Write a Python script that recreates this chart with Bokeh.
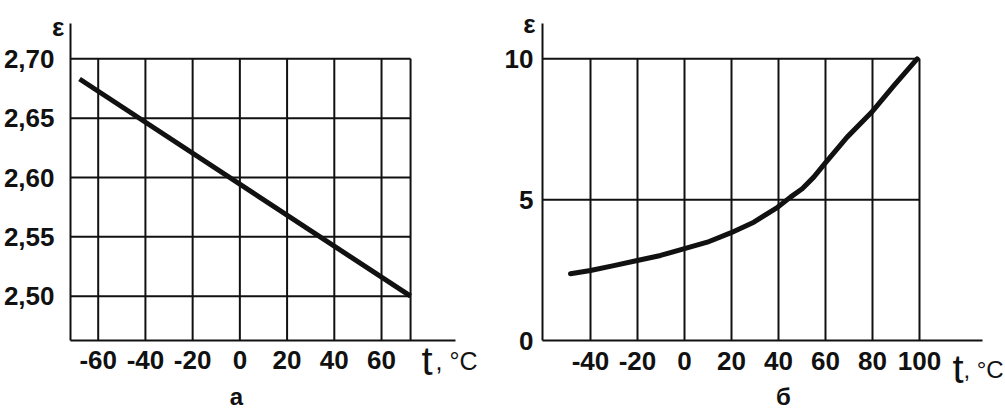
from bokeh.plotting import figure
from bokeh.layouts import row
from bokeh.models import FixedTicker, CustomJSTickFormatter, Label
from bokeh.embed import file_html
from bokeh.resources import INLINE

# ---------------- data ----------------
# panel "а"
T_A = [-67.9, 72.3]
EPS_A = [2.683, 2.500]
XTICKS_A = [-60, -40, -20, 0, 20, 40, 60]
YTICKS_A = [2.50, 2.55, 2.60, 2.65, 2.70]
BOX_RIGHT_A = 72.3
AXIS_X_A = (-71.73, 91.33)     # extent of the t axis
AXIS_Y_A = (2.4627, 2.7297)    # extent of the ε axis

# panel "б"
T_B = [-48.5, -40.0, -30.1, -20.1, -10.2, 0.0, 9.7, 19.6, 29.5, 39.6, 45.1, 50.1,
       55.0, 59.6, 69.2, 79.6, 89.1, 99.0]
EPS_B = [2.37, 2.485, 2.66, 2.84, 3.02, 3.26, 3.49, 3.82, 4.20, 4.73, 5.09, 5.39,
         5.80, 6.27, 7.22, 8.10, 9.05, 10.0]
XTICKS_B = [-40, -20, 0, 20, 40, 60, 80, 100]
YTICKS_B = [0, 5, 10]
AXIS_X_B = (-60.43, 126.8)
AXIS_Y_B = (0.0, 11.25)

FONT = "Liberation Sans Narrow, Liberation Sans, sans-serif"
INK = "#111111"


def style(p, xticks, yticks, ystand, yfmt, ax_x, ax_y):
    p.outline_line_color = None
    p.xgrid.visible = False
    p.ygrid.visible = False
    p.background_fill_color = "white"
    p.border_fill_color = "white"
    for ax in (p.xaxis[0], p.yaxis[0]):
        ax.axis_line_width = 2
        ax.axis_line_color = INK
        ax.major_tick_out = 0
        ax.major_tick_in = 0
        ax.minor_tick_out = 0
        ax.minor_tick_in = 0
        ax.major_label_text_font = FONT
        ax.major_label_text_font_style = "bold"
        ax.major_label_text_font_size = "26px"
        ax.major_label_text_color = INK
    xa, ya = p.xaxis[0], p.yaxis[0]
    xa.ticker = FixedTicker(ticks=xticks)
    ya.ticker = FixedTicker(ticks=yticks)
    xa.formatter = CustomJSTickFormatter(code="return tick.toFixed(0);")
    ya.formatter = CustomJSTickFormatter(code=yfmt)
    xa.major_label_standoff = 11
    ya.major_label_standoff = ystand
    xa.fixed_location = ax_y[0]
    ya.fixed_location = ax_x[0]
    xa.bounds = ax_x
    ya.bounds = ax_y


def lab(p, x, y, text, size, style_="normal", align="left", baseline="alphabetic"):
    p.add_layout(Label(x=x, y=y, text=text, text_font=FONT, text_font_size=size,
                       text_font_style=style_, text_align=align,
                       text_baseline=baseline, text_color=INK))


# ---------------- panel а ----------------
pa = figure(width=480, height=409, x_range=(-101.38, 101.92), y_range=(2.40455, 2.74912),
            output_backend="svg", toolbar_location=None,
            min_border_left=0, min_border_right=0, min_border_top=0, min_border_bottom=0)
style(pa, XTICKS_A, YTICKS_A, 16, "return tick.toFixed(2).replace('.', ',');",
      AXIS_X_A, AXIS_Y_A)

vx = XTICKS_A + [BOX_RIGHT_A]
pa.segment(x0=vx, y0=[AXIS_Y_A[0]] * len(vx), x1=vx, y1=[max(YTICKS_A)] * len(vx),
           line_color=INK, line_width=2)
pa.segment(x0=[AXIS_X_A[0]] * len(YTICKS_A), y0=YTICKS_A, x1=[BOX_RIGHT_A] * len(YTICKS_A),
           y1=YTICKS_A, line_color=INK, line_width=2)
pa.line(T_A, EPS_A, line_color=INK, line_width=5)

lab(pa, -77.0, 2.7268, "ε", "26px", "bold", "center", "middle")
lab(pa, -1.42, 2.4158, "а", "24px", "bold", "center")
lab(pa, 76.9, 2.4458, "t", "40px")
lab(pa, 82.9, 2.4458, ", °C", "25px")

# ---------------- panel б ----------------
pb = figure(width=525, height=409, x_range=(-86.81, 136.6), y_range=(-2.449, 12.07),
            output_backend="svg", toolbar_location=None,
            min_border_left=0, min_border_right=0, min_border_top=0, min_border_bottom=0)
style(pb, XTICKS_B, YTICKS_B, 9, "return tick.toFixed(0);", AXIS_X_B, AXIS_Y_B)

gy = [v for v in YTICKS_B if v > 0]
pb.segment(x0=XTICKS_B, y0=[AXIS_Y_B[0]] * len(XTICKS_B), x1=XTICKS_B,
           y1=[max(YTICKS_B)] * len(XTICKS_B), line_color=INK, line_width=2)
pb.segment(x0=[AXIS_X_B[0]] * len(gy), y0=gy, x1=[max(XTICKS_B)] * len(gy), y1=gy,
           line_color=INK, line_width=2)
pb.line(T_B, EPS_B, line_color=INK, line_width=5, line_join="round", line_cap="round")

lab(pb, -66.0, 11.25, "ε", "26px", "bold", "center", "middle")
lab(pb, 42.1, -1.988, "б", "24px", "bold", "center")
lab(pb, 114.0, -1.029, "t", "40px")
lab(pb, 118.7, -1.029, ", °C", "24px")

layout = row(pa, pb)
open("out.html", "w").write(file_html(layout, INLINE))
